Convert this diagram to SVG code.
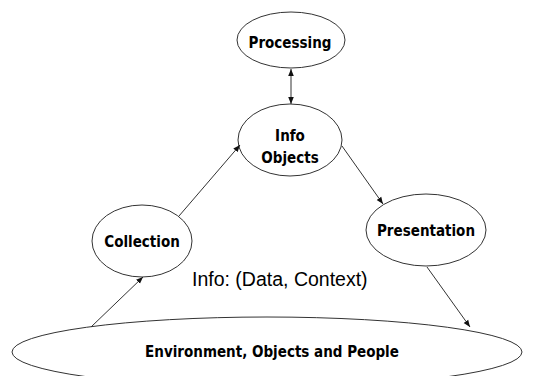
<svg xmlns="http://www.w3.org/2000/svg" width="541" height="376" viewBox="0 0 541 376">
<style>
.n{fill:#fff;stroke:#333;stroke-width:1}
.t{font-family:"DejaVu Sans Condensed","DejaVu Sans",Verdana,sans-serif;font-stretch:condensed;font-weight:bold;font-size:15px;fill:#000;text-anchor:middle}
.e{stroke:#333;stroke-width:1;fill:none;marker-end:url(#ah)}
.lbl{font-family:"Liberation Sans",Arial,sans-serif;font-size:19.5px;fill:#000}
</style>
<defs>
<marker id="ah" viewBox="0 0 10 10" refX="10" refY="5" markerWidth="7" markerHeight="7" orient="auto-start-reverse" markerUnits="userSpaceOnUse">
<path d="M0,1 L10,5 L0,9 z" fill="#111"/>
</marker>
</defs>
<rect width="541" height="376" fill="#fff"/>
<g id="environment">
<ellipse class="n" cx="267" cy="352" rx="255" ry="35"/>
<text class="t" x="272" y="357">Environment, Objects and People</text>
</g>
<g id="processing">
<ellipse class="n" cx="291" cy="40" rx="54" ry="28"/>
<text class="t" x="290" y="48">Processing</text>
</g>
<g id="info-objects">
<ellipse class="n" cx="290" cy="140" rx="52" ry="36"/>
<text class="t" x="290" y="141">Info</text>
<text class="t" x="290" y="163">Objects</text>
</g>
<g id="collection">
<ellipse class="n" cx="142" cy="241" rx="50" ry="36"/>
<text class="t" x="142" y="247">Collection</text>
</g>
<g id="presentation">
<ellipse class="n" cx="426" cy="230" rx="60" ry="36"/>
<text class="t" x="426" y="236">Presentation</text>
</g>
<g id="connectors">
<line class="e" x1="291" y1="104" x2="291" y2="69" style="marker-start:url(#ah)"/>
<line class="e" x1="91" y1="327" x2="143" y2="277"/>
<line class="e" x1="179" y1="216" x2="240" y2="145"/>
<line class="e" x1="342" y1="146" x2="383" y2="204"/>
<line class="e" x1="427" y1="267" x2="470" y2="327"/>
</g>
<text class="lbl" x="192" y="286">Info: (Data, Context)</text>
</svg>
